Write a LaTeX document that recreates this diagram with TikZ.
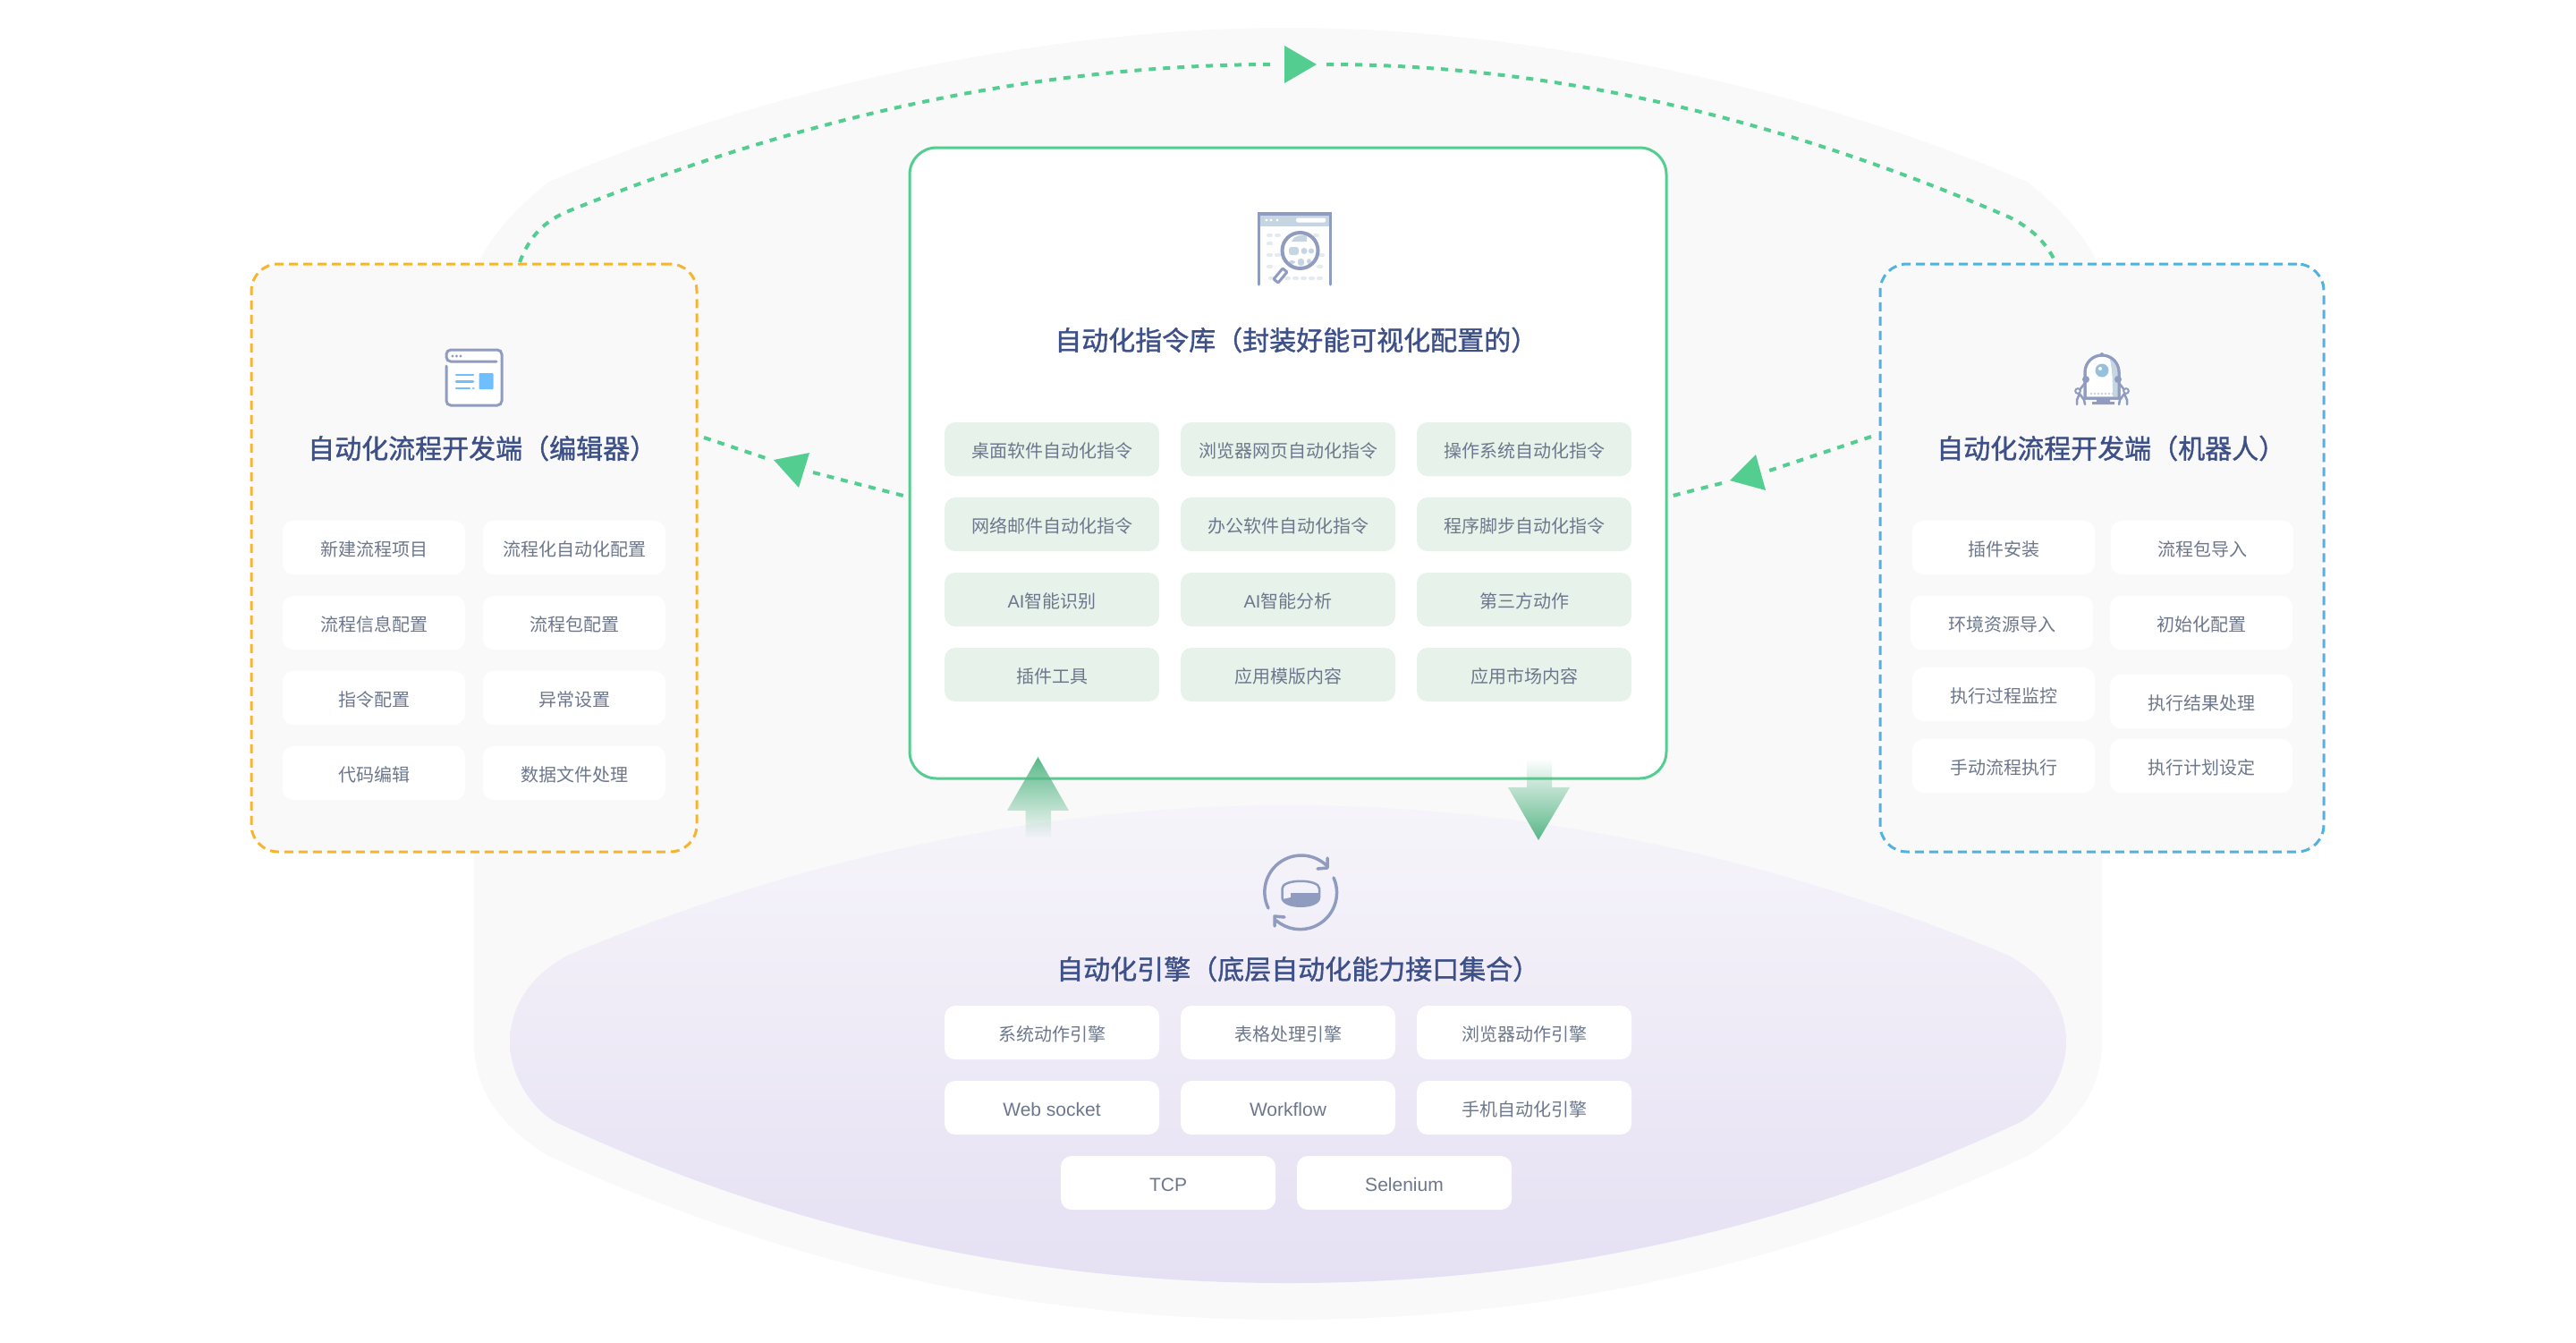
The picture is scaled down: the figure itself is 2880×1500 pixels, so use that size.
\documentclass[tikz,border=0pt]{standalone}
\usepackage{fontspec}
\usetikzlibrary{fadings,arrows.meta}
\newfontfamily\cjk{Noto Sans CJK SC}
\newfontfamily\cjkmed[FakeBold=1.3]{Noto Sans CJK SC}
\newfontfamily\lat{Liberation Sans}
\definecolor{bggray}{HTML}{F9F9F9}
\definecolor{cgreen}{HTML}{54CE90}
\definecolor{corange}{HTML}{F5B52F}
\definecolor{cblue}{HTML}{52B2DE}
\definecolor{ctitle}{HTML}{3E5088}
\definecolor{ctext}{HTML}{6D778C}
\definecolor{citem}{HTML}{E6F2EA}
\definecolor{cicon}{HTML}{8F9CBF}
\definecolor{cpale}{HTML}{C5D5E2}
\definecolor{cpaler}{HTML}{E3EAF0}
\definecolor{carrow}{HTML}{58B888}
\definecolor{lenstop}{HTML}{F6F4FA}
\definecolor{lensbot}{HTML}{E5E0F3}
\definecolor{cblock}{HTML}{6FBEFF}
\definecolor{ceye}{HTML}{97C0DC}
\tikzfading[name=fadetoup,top color=transparent!0,bottom color=transparent!100]
\tikzfading[name=fadetodown,bottom color=transparent!0,top color=transparent!100]
\tikzset{
 itembase/.style={rectangle,rounded corners=12pt,inner sep=0pt,font=\cjk\fontsize{20}{24}\selectfont,text=ctext,minimum height=60pt,text height=20pt,text depth=1.8pt},
 itemwhite/.style={itembase,fill=white,minimum width=204pt},
 itemwide/.style={itembase,fill=white,minimum width=240pt},
 itemgreen/.style={itembase,fill=citem,minimum width=240pt},
 titletext/.style={anchor=west,inner sep=0pt,font=\cjkmed\fontsize{30}{36}\selectfont,text=ctitle},
 flow/.style={cgreen,line width=4pt,dash pattern=on 8pt off 8pt},
 flowtip/.style={fill=cgreen,draw=none},
 panel/.style={rectangle,rounded corners=30pt,line width=3pt,inner sep=0pt},
 dashpanel/.style={panel,fill=bggray,dash pattern=on 10pt off 6pt},
 icon/.style={cicon,line width=3pt},
}
\begin{document}
\begin{tikzpicture}[x=1pt,y=-1pt]
\useasboundingbox (0,0) rectangle (2880,1500);
% backdrop
\fill[bggray] (1440,31) .. controls (1200,31) and (890,85) .. (614,203)
  .. controls (585,225) and (548,262) .. (536,293)
  .. controls (532,310) and (530,325) .. (530,340) -- (530,1165)
  .. controls (530,1215) and (555,1255) .. (611,1291)
  .. controls (880,1415) and (1150,1475) .. (1440,1475)
  .. controls (1730,1475) and (2000,1415) .. (2269,1291)
  .. controls (2325,1255) and (2350,1215) .. (2350,1165) -- (2350,340)
  .. controls (2350,325) and (2348,310) .. (2344,293)
  .. controls (2332,262) and (2295,225) .. (2266,203)
  .. controls (1990,85) and (1680,31) .. (1440,31) -- cycle;
\shade[top color=lenstop,bottom color=lensbot]
  (1440,900) .. controls (1150,900) and (880,965) .. (634,1068)
  .. controls (590,1092) and (570,1128) .. (570,1165)
  .. controls (570,1197) and (590,1236) .. (621,1254)
  .. controls (880,1375) and (1150,1434) .. (1440,1434)
  .. controls (1730,1434) and (2000,1375) .. (2259,1254)
  .. controls (2290,1236) and (2310,1197) .. (2310,1165)
  .. controls (2310,1128) and (2290,1092) .. (2246,1068)
  .. controls (2000,965) and (1730,900) .. (1440,900) -- cycle;
% panels
\node[dashpanel,draw=corange,minimum width=498pt,minimum height=657pt] (editor) at (530,623.5) {};
\node[dashpanel,draw=cblue,minimum width=496pt,minimum height=657pt] (robot) at (2350,623.5) {};
\node[panel,draw=cgreen,fill=white,minimum width=846pt,minimum height=705pt] (library) at (1440,517.5) {};
% named connector ends
\coordinate (a0) at (581,293);
\coordinate (a1) at (1427,72);
\coordinate (am) at (633,237);
\coordinate (b0) at (1483,72);
\coordinate (b1) at (2299,295);
\coordinate (bm) at (2247,243);
\coordinate (c0) at (787,489);
\coordinate (c1) at (856,512);
\coordinate (c2) at (909,528);
\coordinate (c3) at (1010,554);
\coordinate (d0) at (2092,488);
\coordinate (d1) at (1978,526);
\coordinate (d2) at (1925,540);
\coordinate (d3) at (1870,554);
% connectors
\draw[flow] (a0) .. controls (590,270) and (603,250) .. (am) .. controls (860,145) and (1130,72) .. (a1);
\fill[flowtip] (1472,72) -- (1436,51) -- (1436,93) -- cycle;
\draw[flow] (b0) .. controls (1760,72) and (2020,145) .. (bm) .. controls (2275,257) and (2290,275) .. (b1);
\draw[flow] (c0) -- (c1);
\draw[flow] (c2) -- (c3);
\fill[flowtip] (865,514) -- (905,506) -- (893,545) -- cycle;
\draw[flow] (d0) -- (d1);
\draw[flow] (d2) -- (d3);
\fill[flowtip] (1934,537) -- (1963,508) -- (1974,548) -- cycle;
% flow arrows
\fill[carrow,path fading=fadetoup] (1160.5,846) -- (1195,906) -- (1175,906) -- (1175,937) -- (1146.5,937) -- (1146.5,906) -- (1126,906) -- cycle;
\fill[carrow,path fading=fadetodown] (1707,848) -- (1735,848) -- (1735,880) -- (1755,880) -- (1720,939) -- (1686,880) -- (1707,880) -- cycle;
% titles
\node[titletext] (t1) at (344,501) {自动化流程开发端（编辑器）};
\node[titletext] (t2) at (2165,501) {自动化流程开发端（机器人）};
\node[titletext] (t3) at (1179,380) {自动化指令库（封装好能可视化配置的）};
\node[titletext] (t4) at (1181,1083) {自动化引擎（底层自动化能力接口集合）};
% center items
\node[itemgreen] (c11) at (1176,502) {桌面软件自动化指令};
\node[itemgreen] (c12) at (1440,502) {浏览器网页自动化指令};
\node[itemgreen] (c13) at (1704,502) {操作系统自动化指令};
\node[itemgreen] (c21) at (1176,586) {网络邮件自动化指令};
\node[itemgreen] (c22) at (1440,586) {办公软件自动化指令};
\node[itemgreen] (c23) at (1704,586) {程序脚步自动化指令};
\node[itemgreen] (c31) at (1176,670) {{\lat AI}智能识别};
\node[itemgreen] (c32) at (1440,670) {{\lat AI}智能分析};
\node[itemgreen] (c33) at (1704,670) {第三方动作};
\node[itemgreen] (c41) at (1176,754) {插件工具};
\node[itemgreen] (c42) at (1440,754) {应用模版内容};
\node[itemgreen] (c43) at (1704,754) {应用市场内容};
% left items
\node[itemwhite] (l11) at (418,612) {新建流程项目};
\node[itemwhite] (l12) at (642,612) {流程化自动化配置};
\node[itemwhite] (l21) at (418,696) {流程信息配置};
\node[itemwhite] (l22) at (642,696) {流程包配置};
\node[itemwhite] (l31) at (418,780) {指令配置};
\node[itemwhite] (l32) at (642,780) {异常设置};
\node[itemwhite] (l41) at (418,864) {代码编辑};
\node[itemwhite] (l42) at (642,864) {数据文件处理};
% right items
\node[itemwhite] (r11) at (2240,612) {插件安装};
\node[itemwhite] (r12) at (2462,612) {流程包导入};
\node[itemwhite] (r21) at (2238,696) {环境资源导入};
\node[itemwhite] (r22) at (2461,696) {初始化配置};
\node[itemwhite] (r31) at (2240,776) {执行过程监控};
\node[itemwhite] (r32) at (2461,784) {执行结果处理};
\node[itemwhite] (r41) at (2240,856) {手动流程执行};
\node[itemwhite] (r42) at (2461,856) {执行计划设定};
% engine items
\node[itemwide] (e11) at (1176,1154) {系统动作引擎};
\node[itemwide] (e12) at (1440,1154) {表格处理引擎};
\node[itemwide] (e13) at (1704,1154) {浏览器动作引擎};
\node[itemwide] (e21) at (1176,1238) {\lat\fontsize{21}{24}\selectfont Web socket};
\node[itemwide] (e22) at (1440,1238) {\lat\fontsize{21}{24}\selectfont Workflow};
\node[itemwide] (e23) at (1704,1238) {手机自动化引擎};
\node[itemwide] (e31) at (1306,1322) {\lat\fontsize{21}{24}\selectfont TCP};
\node[itemwide] (e32) at (1570,1322) {\lat\fontsize{21}{24}\selectfont Selenium};
% editor icon
\fill[white] (500,392) rectangle (560,452);
\draw[icon,rounded corners=5pt,line cap=round] (499,409) -- (499,453) -- (561,453) -- (561,391) -- (499,391) -- (499,404) -- (555,404);
\foreach \x in {506,510.5,515} \fill[cicon] (\x,398) circle (1.6);
\fill[cblock,rounded corners=1pt] (535.5,417) rectangle (551.6,435);
\draw[cblock,line width=2.5pt,line cap=round]
  (510,419) -- (529,419) (510,426.5) -- (529,426.5) (510,434) -- (525,434) (529,434) -- (529.5,434);
% search icon
\fill[white] (1406,237) rectangle (1489,319);
\fill[cpale] (1406,240) rectangle (1489,253);
\foreach \y/\a/\b in {263/1418/1430,272/1418/1424,285/1418/1430,298/1418/1424,311/1420/1478,263/1470/1478,285/1476/1479,298/1474/1479}
  \draw[cpaler,line width=4pt,line cap=round,dash pattern=on 3pt off 6pt] (\a,\y) -- (\b,\y);
\draw[icon,line cap=round] (1407.5,318) -- (1407.5,239) -- (1487.5,239) -- (1487.5,318);
\fill[cicon] (1406,237) rectangle (1489,240);
\foreach \x in {1416,1421,1428} \fill[white] (\x,246) circle (1.6);
\fill[white,rounded corners=1.5pt] (1449,243.5) rectangle (1482,248.5);
\fill[white] (1453.5,280) circle (21);
\fill[cpale] (1444,270) .. controls (1447,262) and (1458,262) .. (1461,264) -- (1461,270) -- cycle;
\fill[cpale,rounded corners=3pt] (1441,276) rectangle (1452,285);
\fill[cpale] (1458,280.5) circle (3.5) (1466,280.5) circle (3);
\fill[cpale,rounded corners=3pt] (1441,291) rectangle (1448,295) (1451,289) rectangle (1458,297) (1461,289) rectangle (1466,295);
\draw[cicon,line width=4pt] (1453.5,280) circle (20);
\draw[cicon,line width=3pt,fill=white,rounded corners=1pt] (1434,300) -- (1439,304) -- (1429,316) -- (1424,312) -- cycle;
% robot icon
\draw[icon,fill=white] (2331,445) -- (2331,416) arc[start angle=180,end angle=360,radius=19] -- (2369,445) -- cycle;
\fill[cpale] (2369,445) -- (2369,416) arc[start angle=360,end angle=300,radius=19] -- (2359,402) .. controls (2362,415) and (2362,430) .. (2362,443) -- cycle;
\draw[icon] (2331,445) -- (2331,416) arc[start angle=180,end angle=360,radius=19] -- (2369,445) -- cycle;
\fill[cicon] (2350,396) circle (2);
\fill[ceye] (2350,414) circle (7.5);
\fill[white] (2348,412) circle (2);
\foreach \x in {2338,2342,2346,2350,2354,2358,2362} \fill[cpale] (\x,440) circle (1.3);
\fill[cicon] (2344,446) rectangle (2359,449) (2339,449) rectangle (2364,452);
\fill[cicon] (2332,424) circle (4) (2368,424) circle (4);
\draw[icon,line width=2.5pt] (2331,428) -- (2324,437) (2369,428) -- (2376,437);
\draw[icon,line width=2pt,fill=white] (2323,437) circle (2.8) (2377,437) circle (2.8);
\draw[icon,line width=2.5pt,line cap=round]
  (2325,440) -- (2330,447) -- (2331,452) (2325,440) -- (2322,447) -- (2322,452)
  (2375,440) -- (2370,447) -- (2369,452) (2375,440) -- (2378,447) -- (2378,452);
% engine icon
\draw[cicon,line width=3.5pt,line cap=round] (1418,1015) arc[start angle=-206,end angle=-47,radius=41];
\draw[cicon,line width=3.5pt,line cap=round,line join=round] (1484,959) -- (1484,970) -- (1473,971);
\draw[cicon,line width=3.5pt,line cap=round] (1491,981) arc[start angle=-24,end angle=131,radius=41];
\draw[cicon,line width=3.5pt,line cap=round,line join=round] (1425,1035) -- (1425,1024) -- (1436,1025);
\fill[cicon] (1443,998) -- (1475,998) -- (1475,1005) .. controls (1470,1015) and (1440,1015) .. (1434,1005) -- (1443,1003) -- cycle;
\draw[cicon,line width=2.5pt] (1433.5,993) .. controls (1433.5,982) and (1475,982) .. (1475,993) -- (1475,1003) .. controls (1475,1016) and (1433.5,1016) .. (1433.5,1003) -- cycle;
\end{tikzpicture}
\end{document}
